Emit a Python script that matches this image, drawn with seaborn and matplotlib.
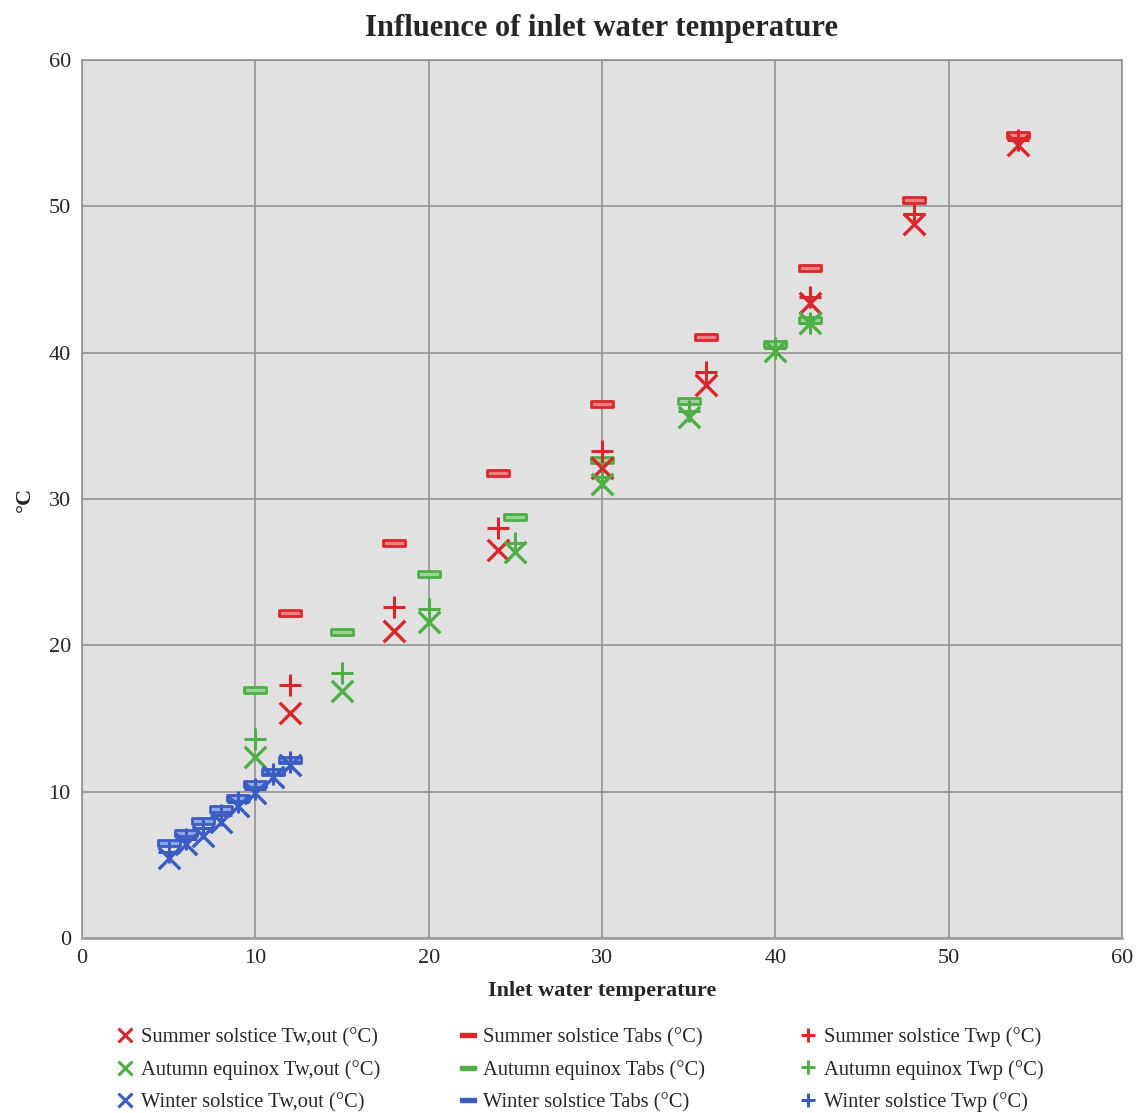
import numpy as np
import pandas as pd
import matplotlib
matplotlib.use("Agg")
import matplotlib.pyplot as plt
from matplotlib.path import Path
from matplotlib.lines import Line2D
import seaborn as sns

# ---- data ----
summer_x = [12, 18, 24, 30, 36, 42, 48, 54]
summer_tw = [15.4, 21.0, 26.5, 32.1, 37.8, 43.4, 48.8, 54.2]
summer_tabs = [22.2, 27.0, 31.75, 36.5, 41.1, 45.8, 50.4, 54.9]
summer_twp = [17.3, 22.6, 28.0, 33.3, 38.7, 43.8, 49.5, 54.5]

autumn_x = [10, 15, 20, 25, 30, 35, 40, 42]
autumn_tw = [12.4, 16.9, 21.6, 26.4, 31.0, 35.6, 40.1, 42.0]
autumn_tabs = [16.95, 20.9, 24.9, 28.8, 32.7, 36.7, 40.6, 42.2]
autumn_twp = [13.6, 18.1, 22.5, 27.0, 31.5, 36.0, 40.3, 42.0]

winter_x = [5, 6, 7, 8, 9, 10, 11, 12]
winter_tw = [5.5, 6.4, 7.0, 7.95, 9.0, 9.9, 11.0, 11.8]
winter_tabs = [6.5, 7.2, 8.0, 8.8, 9.6, 10.5, 11.35, 12.2]
winter_twp = [5.9, 6.8, 7.5, 8.4, 9.3, 10.2, 11.2, 12.0]

seasons = ["Summer solstice", "Autumn equinox", "Winter solstice"]
colors = {"Summer solstice": "#D9272B", "Autumn equinox": "#4FAF47", "Winter solstice": "#3A5CC3"}
light = {"Summer solstice": "#F08080", "Autumn equinox": "#9BD596", "Winter solstice": "#8FA6E6"}
quantities = ["Tw,out", "Tabs", "Twp"]

rows = []
for season, xs, tw, tabs, twp in [
    ("Summer solstice", summer_x, summer_tw, summer_tabs, summer_twp),
    ("Autumn equinox", autumn_x, autumn_tw, autumn_tabs, autumn_twp),
    ("Winter solstice", winter_x, winter_tw, winter_tabs, winter_twp),
]:
    for q, vals in zip(quantities, [tw, tabs, twp]):
        for x, v in zip(xs, vals):
            rows.append({"season": season, "quantity": q, "inlet": x, "value": v})
df = pd.DataFrame(rows)

# ---- style ----
sns.set_style("white")
plt.rcParams["font.family"] = ["Liberation Serif", "DejaVu Serif"]

rect = Path([(-1, -0.28), (1, -0.28), (1, 0.28), (-1, 0.28), (-1, -0.28)],
            [Path.MOVETO, Path.LINETO, Path.LINETO, Path.LINETO, Path.CLOSEPOLY])

fig = plt.figure(figsize=(11.4, 11.13), dpi=100)
ax = fig.add_axes([0.0719, 0.1572, 0.9123, 0.7889])
ax.set_facecolor("#E1E1E1")

for season in seasons:
    c = colors[season]
    sub = df[df.season == season]
    d = sub[sub.quantity == "Tabs"]
    sns.scatterplot(data=d, x="inlet", y="value", ax=ax, marker=rect, s=230,
                    color=light[season], edgecolor=c, linewidth=2.0, zorder=3)
    d = sub[sub.quantity == "Twp"]
    sns.scatterplot(data=d, x="inlet", y="value", ax=ax, marker="+", s=260,
                    color=c, linewidth=2.2, zorder=4)
    d = sub[sub.quantity == "Tw,out"]
    sns.scatterplot(data=d, x="inlet", y="value", ax=ax, marker="x", s=240,
                    color=c, linewidth=2.4, zorder=5)

ax.set_xlim(0, 60)
ax.set_ylim(0, 60)
ax.set_xticks(range(0, 61, 10))
ax.set_yticks(range(0, 61, 10))
ax.grid(True, color="#8C8C8C", linewidth=1.1)
ax.set_axisbelow(True)
for s in ax.spines.values():
    s.set_color("#8C8C8C")
    s.set_linewidth(1.1)
ax.spines["bottom"].set_color("#A0A0A0")
ax.spines["bottom"].set_linewidth(2.0)
ax.tick_params(axis="both", labelsize=16, length=0, pad=8)

ax.set_title("Influence of inlet water temperature", fontsize=22, fontweight="bold", pad=17)
ax.set_xlabel("Inlet water temperature", fontsize=16, fontweight="bold", labelpad=9)
ax.set_ylabel("°C", fontsize=16, fontweight="bold", labelpad=10)

col_x = [0.101, 0.4015, 0.7]
for ci, (q, mk) in enumerate([("Tw,out", "x"), ("Tabs", "tabs"), ("Twp", "+")]):
    handles = []
    labels = []
    for season in seasons:
        c = colors[season]
        if mk == "tabs":
            h = Line2D([], [], linestyle="none", marker=rect, markersize=11,
                       markerfacecolor=c, markeredgecolor=c, markeredgewidth=1.0)
        else:
            h = Line2D([], [], linestyle="none", marker=mk, markersize=10,
                       color=c, markeredgewidth=2.2)
        handles.append(h)
        labels.append(f"{season} {q} (°C)")
    fig.legend(handles, labels, ncol=1, loc="lower left",
               bbox_to_anchor=(col_x[ci], 0.0005), borderpad=0, borderaxespad=0,
               frameon=False, fontsize=14.8, handlelength=1.0, handletextpad=0.25,
               labelspacing=0.63)

fig.savefig("out.png", dpi=100)
